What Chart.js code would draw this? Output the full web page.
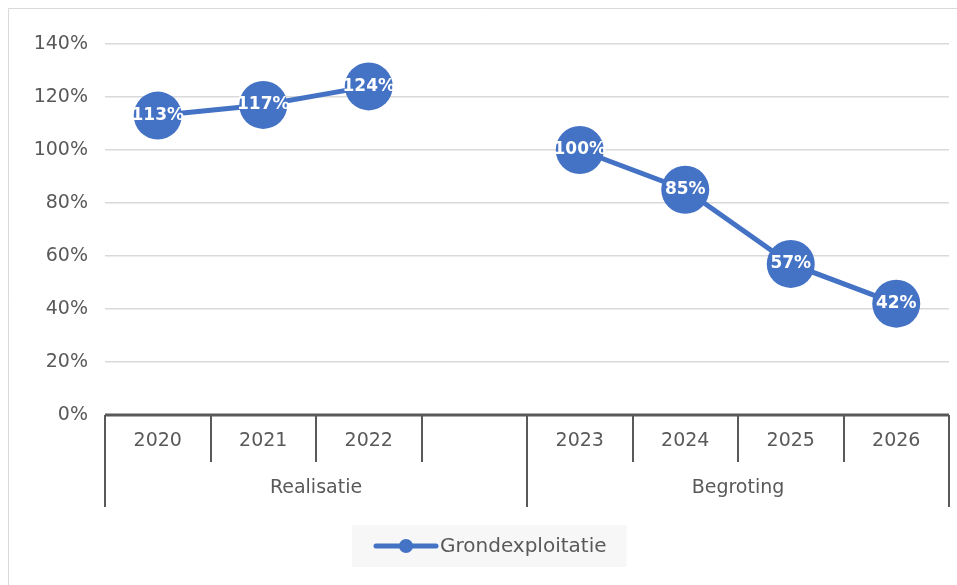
<!DOCTYPE html>
<html>
<head>
<meta charset="utf-8">
<script src="https://cdn.jsdelivr.net/npm/chart.js@4"></script>
<style>
    body { margin: 0; background: #fff; }
</style>
</head>
<body>
<canvas id="chart" width="957" height="585"></canvas>
<script>
// Data
const years = ['2020', '2021', '2022', '', '2023', '2024', '2025', '2026'];
const groups = ['Realisatie', 'Begroting'];
const groupSizes = [4, 4];
const grondexploitatie = [113, 117, 124, null, 100, 85, 57, 42];
const yTicks = [0, 20, 40, 60, 80, 100, 120, 140];

const blue = '#4472C4';
const textGrey = '#595959';
const fontFamily = '"DejaVu Sans", sans-serif';
const markerRadius = 24;

// Draws frame, multi-level axis separators, markers, point labels and legend
// (markers drawn here so Chart.js doesn't pad the chart area for their size)
const excelLook = {
    id: 'excelLook',
    beforeDraw(chart) {
        const ctx = chart.ctx;
        ctx.save();
        ctx.strokeStyle = '#d9d9d9';
        ctx.lineWidth = 1;
        ctx.beginPath();
        ctx.moveTo(957, 8.5);
        ctx.lineTo(8.5, 8.5);
        ctx.lineTo(8.5, 585);
        ctx.stroke();
        ctx.restore();
    },
    afterDatasetsDraw(chart) {
        const ctx = chart.ctx;
        const xs = chart.scales.x;
        const x2 = chart.scales.x2;
        const area = chart.chartArea;
        ctx.save();

        // axis line + separators
        ctx.strokeStyle = textGrey;
        ctx.lineWidth = 3;
        ctx.beginPath();
        ctx.moveTo(xs.left, area.bottom);
        ctx.lineTo(xs.right, area.bottom);
        ctx.stroke();

        const step = xs.width / years.length;
        const groupEdges = [0];
        groupSizes.forEach(n => groupEdges.push(groupEdges[groupEdges.length - 1] + n));
        ctx.lineWidth = 2;
        for (let i = 0; i <= years.length; i++) {
            const x = Math.round(xs.left + i * step);
            const bottom = groupEdges.includes(i) ? x2.bottom : xs.bottom;
            ctx.beginPath();
            ctx.moveTo(x, area.bottom);
            ctx.lineTo(x, bottom);
            ctx.stroke();
        }

        // markers + data labels
        const meta = chart.getDatasetMeta(0);
        ctx.font = 'bold 17px ' + fontFamily;
        ctx.textAlign = 'center';
        ctx.textBaseline = 'middle';
        meta.data.forEach((pt, i) => {
            const v = grondexploitatie[i];
            if (v === null) return;
            ctx.fillStyle = blue;
            ctx.beginPath();
            ctx.arc(pt.x, pt.y, markerRadius, 0, Math.PI * 2);
            ctx.fill();
            ctx.fillStyle = '#ffffff';
            ctx.fillText(v + '%', pt.x, pt.y);
        });

        // legend
        const label = chart.data.datasets[0].label;
        ctx.font = '20px ' + fontFamily;
        const tw = ctx.measureText(label).width;
        const boxL = 352, boxT = 525, boxH = 42;
        const boxW = 24 + 64 + tw + 20;
        ctx.fillStyle = '#f7f7f7';
        ctx.fillRect(boxL, boxT, boxW, boxH);
        const ly = boxT + boxH / 2;
        ctx.strokeStyle = blue;
        ctx.lineWidth = 5;
        ctx.lineCap = 'round';
        ctx.beginPath();
        ctx.moveTo(boxL + 24, ly);
        ctx.lineTo(boxL + 84, ly);
        ctx.stroke();
        ctx.fillStyle = blue;
        ctx.beginPath();
        ctx.arc(boxL + 54, ly, 7, 0, Math.PI * 2);
        ctx.fill();
        ctx.fillStyle = textGrey;
        ctx.textAlign = 'left';
        ctx.fillText(label, boxL + 88, ly + 1);
        ctx.restore();
    }
};

function noPad(s) {
    s.paddingLeft = 0;
    s.paddingRight = 0;
}

const ctx = document.getElementById('chart').getContext('2d');
const chart = new Chart(ctx, {
    type: 'line',
    data: {
        labels: years,
        datasets: [{
            label: 'Grondexploitatie',
            data: grondexploitatie,
            borderColor: blue,
            backgroundColor: blue,
            borderWidth: 5,
            pointRadius: 0,
            spanGaps: false,
            tension: 0
        }]
    },
    options: {
        responsive: false,
        animation: false,
        events: [],
        layout: { padding: { left: 8, right: 8, top: 44, bottom: 78 } },
        plugins: {
            legend: { display: false },
            tooltip: { enabled: false }
        },
        scales: {
            x: {
                type: 'category',
                position: 'bottom',
                offset: true,
                grid: { display: false, drawTicks: false },
                border: { display: false },
                ticks: {
                    color: textGrey,
                    font: { family: fontFamily, size: 19 },
                    padding: 15,
                    maxRotation: 0,
                    autoSkip: false
                },
                afterFit: s => { s.height = 47; noPad(s); }
            },
            x2: {
                type: 'category',
                position: 'bottom',
                labels: groups,
                offset: true,
                grid: { display: false, drawTicks: false },
                border: { display: false },
                ticks: {
                    color: textGrey,
                    font: { family: fontFamily, size: 19 },
                    padding: 15,
                    maxRotation: 0
                },
                afterFit: s => { s.height = 45; noPad(s); }
            },
            y: {
                min: 0,
                max: 140,
                afterBuildTicks: s => { s.ticks = yTicks.map(v => ({ value: v })); },
                grid: { color: '#d9d9d9', lineWidth: 1.5, drawTicks: false },
                border: { display: false },
                ticks: {
                    color: textGrey,
                    font: { family: fontFamily, size: 19 },
                    padding: 17,
                    callback: v => v + '%'
                },
                afterFit: s => { s.width = 97; }
            }
        }
    },
    plugins: [excelLook]
});
</script>
</body>
</html>
